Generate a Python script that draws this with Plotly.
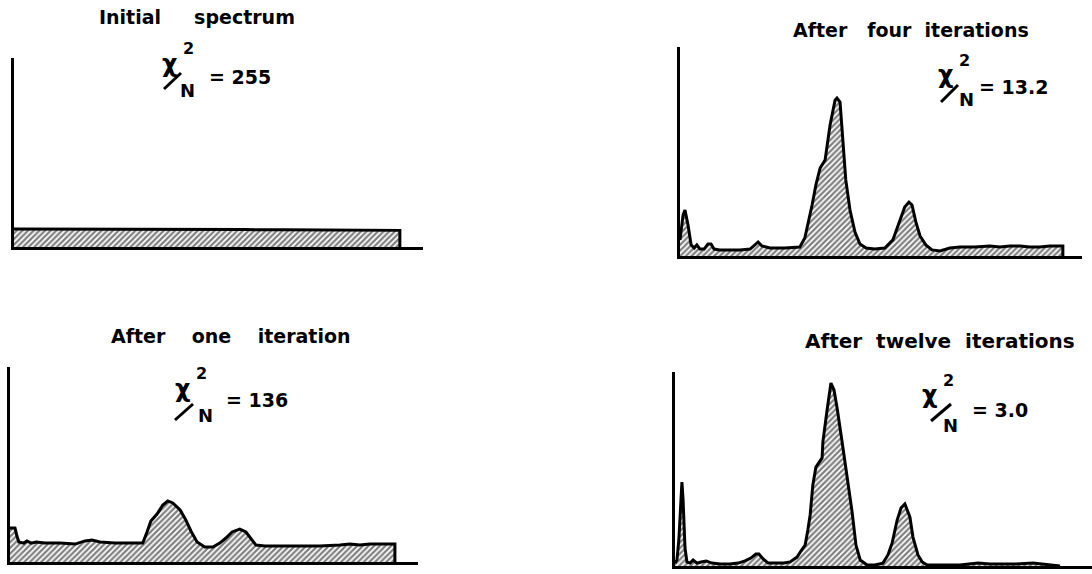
import plotly.graph_objects as go

W, H = 1092, 574

# ---------------- data (channel 0..100, counts on a 0..100 scale) ----------------
ch_initial = [0, 10, 20, 30, 40, 50, 60, 70, 80, 90, 100, 100]
cnt_initial = [9.5, 9.5, 9.4, 9.4, 9.3, 9.3, 9.2, 9.1, 9.0, 8.9, 8.8, 0]

ch_one = [0, 1.3, 1.8, 2.3, 3.6, 4.4, 5.5, 6.8, 9.1, 13.0, 16.9, 19.5, 21.3, 23.4, 27.3,
          31.2, 34.5, 35.6, 36.6, 38.2, 39.7, 41.0, 42.3, 44.2, 45.7, 47.0, 48.6, 50.6,
          52.7, 54.5, 56.1, 57.7, 59.7, 61.3, 62.6, 63.9, 66.2, 72.7, 80.5, 85.7, 88.3,
          90.9, 93.5, 97.4, 100, 100]
cnt_one = [17.4, 17.4, 13.3, 10.3, 9.7, 10.8, 9.7, 10.3, 9.7, 9.7, 9.2, 10.8, 11.3, 10.3, 9.7,
           9.7, 9.7, 15.4, 21.0, 24.6, 29.2, 31.3, 30.3, 26.7, 21.5, 15.9, 10.3, 7.7,
           7.7, 9.7, 12.3, 15.4, 16.9, 15.4, 12.3, 8.7, 8.2, 8.2, 8.2, 8.7, 9.2,
           8.7, 9.2, 9.2, 9.2, 0]

ch_four = [0, 0.8, 1.3, 2.1, 2.9, 3.7, 4.4, 5.2, 6.3, 7.3, 8.1, 8.9, 10.4, 13.1, 15.7,
           18.3, 19.6, 20.4, 21.4, 23.5, 27.4, 31.3, 32.6, 33.4, 34.5, 35.5, 36.6, 37.9,
           39.2, 40.5, 41.0, 41.8, 42.6, 43.3, 44.4, 45.7, 47.0, 48.6, 50.9, 53.5, 55.6,
           57.4, 58.7, 59.8, 60.6, 61.6, 62.7, 64.2, 65.8, 67.9, 70.5, 73.1, 77.0, 80.9,
           83.6, 86.2, 88.8, 91.4, 94.0, 96.6, 100, 100]
cnt_four = [7.7, 19.6, 22.0, 14.8, 5.3, 3.8, 5.3, 3.3, 3.3, 5.7, 5.7, 3.3, 2.9, 2.9, 2.9,
            3.3, 5.3, 6.7, 4.8, 3.8, 3.8, 4.3, 8.6, 14.8, 24.4, 34.0, 42.1, 45.9,
            62.7, 74.6, 75.6, 73.7, 55.5, 36.4, 22.0, 11.5, 5.7, 3.8, 3.3, 3.8, 7.7,
            16.3, 23.4, 25.8, 24.4, 16.3, 9.6, 5.3, 2.9, 2.4, 3.8, 4.3, 4.3, 4.8,
            4.3, 4.8, 4.8, 4.3, 4.3, 4.8, 4.8, 0]

ch_twelve = [0, 0.5, 1.0, 1.6, 1.8, 2.1, 2.3, 2.6, 3.1, 3.9, 4.7, 5.7, 6.8, 8.1, 9.6,
             11.7, 14.3, 16.4, 18.2, 19.7, 21.0, 21.8, 22.9, 24.2, 25.2, 26.8, 28.3,
             29.9, 31.7, 32.7, 33.8, 34.5, 35.1, 35.8, 36.6, 38.2, 38.4, 39.5, 40.5,
             41.3, 42.1, 43.4, 44.7, 46.0, 47.0, 48.1, 49.9, 51.9, 54.0, 55.3, 56.4,
             57.7, 58.7, 59.7, 61.0, 61.8, 63.1, 64.2, 65.5, 68.8, 74.0, 78.7, 81.8,
             85.2, 88.3, 93.0, 96.1, 100]
cnt_twelve = [1.5, 3.1, 13.4, 39.2, 43.3, 34.0, 18.6, 9.3, 2.1, 1.5, 3.1, 1.5, 2.1, 2.6, 1.5,
              1.0, 1.0, 1.5, 2.6, 4.1, 6.2, 6.2, 3.6, 1.5, 1.5, 1.5, 1.5,
              2.1, 4.6, 7.7, 10.8, 18.6, 26.3, 41.8, 51.0, 55.7, 63.9, 80.4, 94.3,
              90.7, 81.4, 63.9, 46.9, 27.8, 10.8, 3.1, 0.5, 0.5, 1.5, 5.7, 11.9,
              23.7, 29.9, 32.0, 25.3, 14.9, 5.7, 2.1, 0.5, 0.5, 0.5, 1.5, 1.0,
              1.0, 1.0, 1.5, 1.0, 0]

titles = ["Initial     spectrum", "After   four  iterations",
          "After    one    iteration", "After  twelve  iterations"]
chi_values = ["= 255", "= 13.2", "= 136", "= 3.0"]

series = [(ch_initial, cnt_initial), (ch_four, cnt_four),
          (ch_one, cnt_one), (ch_twelve, cnt_twelve)]
for a, b in series:
    assert len(a) == len(b)

# ---------------- layout (pixel boxes of each panel) ----------------
boxes = [  # x0, x1, ytop, ybottom, xmax
    (14, 423, 58, 247, 106),
    (680, 1082, 47, 256, 105),
    (10, 418, 367, 562, 106),
    (675, 1092, 372, 566, 108.3),
]

def px(x):
    return x / W

def py(y):
    return 1 - y / H

fig = go.Figure()
layout = dict(width=W, height=H, margin=dict(l=0, r=0, t=0, b=0),
              paper_bgcolor="white", plot_bgcolor="rgba(0,0,0,0)", showlegend=False)

for i, ((xs, ys), (x0, x1, yt, yb, xmax)) in enumerate(zip(series, boxes), start=1):
    suffix = "" if i == 1 else str(i)
    fig.add_trace(go.Scatter(
        x=xs, y=ys, mode="lines", fill="tozeroy",
        line=dict(color="black", width=3),
        fillcolor="white",
        fillpattern=dict(shape="/", fgcolor="black", bgcolor="white", size=4, solidity=0.55),
        xaxis="x" + suffix, yaxis="y" + suffix, hoverinfo="skip"))
    layout["xaxis" + suffix] = dict(
        domain=[px(x0), px(x1)], range=[0, xmax], anchor="y" + suffix,
        showline=True, linecolor="black", linewidth=2.5, showgrid=False,
        zeroline=False, ticks="", showticklabels=False, fixedrange=True)
    layout["yaxis" + suffix] = dict(
        domain=[py(yb), py(yt)], range=[0, 100], anchor="x" + suffix,
        showline=True, linecolor="black", linewidth=3, showgrid=False,
        zeroline=False, ticks="", showticklabels=False, fixedrange=True)

fig.update_layout(**layout)

FONT = "DejaVu Sans"
title_pos = [(197, 17, 19), (911, 30, 19), (231, 336, 19), (940, 341, 20)]
for t, (x, y, s) in zip(titles, title_pos):
    fig.add_annotation(x=px(x), y=py(y), xref="paper", yref="paper", text="<b>" + t + "</b>",
                       showarrow=False, xanchor="center", yanchor="middle",
                       font=dict(family=FONT, size=s, color="black"))

# chi^2 / N labels: chi center, "2" center, N center, slash line, value left/center-y
chi_pos = [
    ((169, 64), (188, 49), (187, 90), (164, 89, 181, 73), (207, 77)),
    ((945, 75), (964, 60), (966, 99), (941, 102, 958, 85), (977, 87)),
    ((182, 389), (201, 373), (205, 415), (175, 420, 193, 404), (224, 400)),
    ((929, 395), (948, 380), (950, 425), (931, 421, 951, 404), (970, 410)),
]
for val, (c, two, n, sl, v) in zip(chi_values, chi_pos):
    fig.add_annotation(x=px(c[0]), y=py(c[1]), xref="paper", yref="paper", text="<b>χ</b>",
                       showarrow=False, xanchor="center", yanchor="middle",
                       font=dict(family=FONT, size=24, color="black"))
    fig.add_annotation(x=px(two[0]), y=py(two[1]), xref="paper", yref="paper", text="<b>2</b>",
                       showarrow=False, xanchor="center", yanchor="middle",
                       font=dict(family=FONT, size=16, color="black"))
    fig.add_annotation(x=px(n[0]), y=py(n[1]), xref="paper", yref="paper", text="<b>N</b>",
                       showarrow=False, xanchor="center", yanchor="middle",
                       font=dict(family=FONT, size=18, color="black"))
    fig.add_shape(type="line", xref="paper", yref="paper",
                  x0=px(sl[0]), y0=py(sl[1]), x1=px(sl[2]), y1=py(sl[3]),
                  line=dict(color="black", width=3))
    fig.add_annotation(x=px(v[0]), y=py(v[1]), xref="paper", yref="paper", text="<b>" + val + "</b>",
                       showarrow=False, xanchor="left", yanchor="middle",
                       font=dict(family=FONT, size=19, color="black"))

fig.write_html("out.html", config={"displayModeBar": False})
